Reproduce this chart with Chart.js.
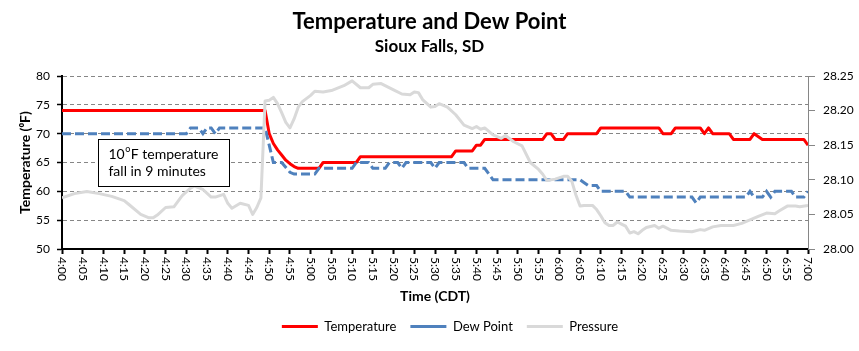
<!DOCTYPE html>
<html><head><meta charset="utf-8">
<script src="https://cdn.jsdelivr.net/npm/chart.js@4.4.1/dist/chart.umd.min.js"></script>
<style>html,body{margin:0;padding:0;background:#fff;}#wrap{width:859px;height:351px;}</style>
</head><body><div id="wrap"><canvas id="c" width="859" height="351"></canvas></div>
<script>
// ---- data (minutes after 4:00 CDT) ----
const tickLabels = ['4:00','4:05','4:10','4:15','4:20','4:25','4:30','4:35','4:40','4:45','4:50','4:55','5:00','5:05','5:10','5:15','5:20','5:25','5:30','5:35','5:40','5:45','5:50','5:55','6:00','6:05','6:10','6:15','6:20','6:25','6:30','6:35','6:40','6:45','6:50','6:55','7:00'];

const tempMin = [0,49,50,51,52,53,54,55,56,57,62,63,71,72,94,95,99,100,101,102,116,117,118,119,121,122,129,130,144,145,147,148,154,155,156,157,161,162,166,167,169,179,180];
const tempVal = [74,74,70,68.3,67.2,66.3,65.4,64.8,64.3,64,64,65,65,66,66,67,67,68,68,69,69,70,70,69,69,70,70,71,71,70,70,71,71,70,71,70,70,69,69,70,69,69,68];

const dewMin = [0,30,31,33,34,35,36,37,38,49,50,51,53,55,56,61,62,70,71,74,75,78,79,81,82,83,89,90,91,97,98,102,103,104,125,126,127,129,130,136,137,152,153,154,165,166,167,169,170,171,172,176,177,179,180];
const dewVal = [70,70,71,71,70,71,71,70,71,71,68,65,65,63.3,63,63,64,64,65,65,64,64,65,65,64,65,65,64,65,65,64,64,63,62,62,61.5,61,61,60,60,59,59,58,59,59,60,59,59,60,59,60,60,59,59,60];

const presMin = [0,3,6,9,12,15,16,19,21,22,23,25,27,29,31,32,34,36,37,39,40,41,43,45,46,47,48,49,50,51,52,53,54,55,56,57,58,60,61,63,65,68,70,72,74,75,77,80,82,84,85,86,87,89,90,91,93,95,97,99,100,101,102,104,106,107,109,111,113,115,116,117,119,121,122,123,124,125,126,128,129,130,131,132,133,134,135,136,137,138,139,140,141,143,144,145,147,149,152,154,155,157,159,162,164,166,168,170,172,173,175,177,178,180];
const presVal = [28.074,28.08,28.083,28.08,28.076,28.07,28.065,28.05,28.045,28.045,28.049,28.06,28.061,28.077,28.088,28.091,28.086,28.075,28.075,28.079,28.066,28.059,28.066,28.063,28.05,28.06,28.074,28.214,28.215,28.219,28.21,28.197,28.183,28.175,28.188,28.205,28.213,28.222,28.228,28.227,28.229,28.236,28.243,28.233,28.233,28.238,28.239,28.23,28.224,28.223,28.227,28.226,28.216,28.205,28.206,28.21,28.205,28.194,28.179,28.174,28.177,28.173,28.175,28.165,28.16,28.164,28.155,28.149,28.125,28.115,28.108,28.099,28.101,28.105,28.105,28.098,28.078,28.062,28.063,28.063,28.057,28.048,28.038,28.034,28.034,28.039,28.036,28.033,28.023,28.025,28.022,28.027,28.031,28.034,28.03,28.033,28.027,28.026,28.025,28.028,28.027,28.032,28.034,28.034,28.037,28.042,28.047,28.052,28.051,28.055,28.062,28.062,28.061,28.063];

const seriesNames = ['Temperature','Dew Point','Pressure'];

const toPts = (xs, ys) => xs.map((m, i) => ({x: m, y: ys[i]}));

Chart.defaults.font.family = 'Lato, "Open Sans", sans-serif';
Chart.defaults.color = '#000';

const xLabelPlugin = {
  id: 'xLabels',
  afterDraw(chart) {
    const xs = chart.scales.x, ctx = chart.ctx;
    ctx.save();
    ctx.font = '12px Lato';
    ctx.fillStyle = '#000';
    ctx.textAlign = 'left';
    ctx.textBaseline = 'middle';
    xs.ticks.forEach((t, i) => {
      const px = xs.getPixelForValue(t.value);
      ctx.save();
      ctx.translate(px, xs.top + 8);
      ctx.rotate(Math.PI / 2);
      ctx.fillText(tickLabels[i], 0, 0);
      ctx.restore();
    });
    ctx.restore();
  }
};

// nudge the centred legend to the right, as in the original layout
const legendShift = {
  id: 'legendShift',
  beforeDraw(chart) {
    const lg = chart.legend;
    if (!lg) return;
    lg.left = chart.chartArea.left + 15;
    lg.right = chart.chartArea.right + 15;
  }
};

const notePlugin = {
  id: 'note',
  afterDatasetsDraw(chart) {
    const xs = chart.scales.x, ys = chart.scales.y, ctx = chart.ctx;
    const x1 = Math.round(xs.getPixelForValue(8.7)) + 0.5;
    const x2 = Math.round(xs.getPixelForValue(40.3)) + 0.5;
    const y1 = Math.round(ys.getPixelForValue(69.1)) + 0.5;
    const y2 = Math.round(ys.getPixelForValue(60.9)) + 0.5;
    ctx.save();
    ctx.fillStyle = '#fff';
    ctx.fillRect(x1, y1, x2 - x1, y2 - y1);
    ctx.strokeStyle = '#000';
    ctx.lineWidth = 1;
    ctx.strokeRect(x1, y1, x2 - x1, y2 - y1);
    ctx.fillStyle = '#000';
    ctx.textAlign = 'left';
    ctx.textBaseline = 'middle';
    const tx = x1 + 10;
    const l1 = ys.getPixelForValue(66.4);
    const l2 = ys.getPixelForValue(63.5);
    ctx.font = '14px Lato';
    ctx.fillText('10', tx, l1);
    let w = ctx.measureText('10').width;
    ctx.font = '9px Lato';
    ctx.fillText('o', tx + w + 0.5, l1 - 5);
    const w2 = ctx.measureText('o').width;
    ctx.font = '14px Lato';
    ctx.fillText('F temperature', tx + w + w2 + 1, l1);
    ctx.fillText('fall in 9 minutes', tx, l2);
    ctx.restore();
  }
};

new Chart(document.getElementById('c'), {
  type: 'line',
  data: {
    datasets: [
      { label: seriesNames[0], data: toPts(tempMin, tempVal), yAxisID: 'y', borderColor: '#FF0000', backgroundColor: '#FF0000', borderWidth: 3, pointRadius: 0, tension: 0, borderJoinStyle: 'round', order: 3 },
      { label: seriesNames[1], data: toPts(dewMin, dewVal), yAxisID: 'y', borderColor: '#4F81BD', backgroundColor: '#4F81BD', borderWidth: 3, borderDash: [9, 4], pointRadius: 0, tension: 0, order: 2 },
      { label: seriesNames[2], data: toPts(presMin, presVal), yAxisID: 'y2', borderColor: '#D9D9D9', backgroundColor: '#D9D9D9', borderWidth: 3, pointRadius: 0, tension: 0, borderJoinStyle: 'round', order: 1 }
    ]
  },
  options: {
    responsive: false,
    animation: false,
    devicePixelRatio: 1,
    layout: { padding: { top: 0, left: 0, right: 0, bottom: 8 } },
    plugins: {
      title: { display: true, text: 'Temperature and Dew Point', font: { size: 22, weight: 'bold' }, color: '#000', padding: { top: 9, bottom: 0 } },
      subtitle: { display: true, text: 'Sioux Falls, SD', font: { size: 17, weight: 'bold' }, color: '#000', padding: { top: 1, bottom: 19.2 } },
      legend: {
        position: 'bottom', fullSize: false,
        labels: { usePointStyle: true, pointStyle: 'line', pointStyleWidth: 36, font: { size: 13 }, color: '#000', padding: 14,
          sort: (a, b) => a.datasetIndex - b.datasetIndex }
      },
      tooltip: { enabled: false }
    },
    scales: {
      x: {
        type: 'linear', min: 0, max: 180,
        ticks: { stepSize: 5, display: false },
        grid: { drawOnChartArea: false, drawTicks: true, tickLength: 5, tickColor: '#000', tickWidth: 2 },
        border: { color: '#000', width: 2 },
        title: { display: true, text: 'Time (CDT)', font: { size: 14, weight: 'bold' }, color: '#000', padding: { top: 0, bottom: 1 } },
        afterFit(s) { s.height = 57; }
      },
      y: {
        position: 'left', min: 50, max: 80,
        ticks: { stepSize: 5, padding: 7, font: { size: 12 }, color: '#000' },
        grid: {
          color: (c) => (c.tick && c.tick.value === 50) ? 'rgba(0,0,0,0)' : '#868686',
          lineWidth: 1, tickLength: 5, tickColor: '#000', tickWidth: 1.5
        },
        border: { color: '#000', width: 2, dash: [4, 3] },
        title: { display: true, text: 'Temperature (\u2070F)', font: { size: 14, weight: 'bold' }, color: '#000', padding: { top: 17, bottom: 0 } },
        afterFit(s) { s.width = 62; }
      },
      y2: {
        position: 'right', min: 28.0, max: 28.25,
        ticks: { stepSize: 0.05, padding: 8, font: { size: 12 }, color: '#000', callback: (v) => Number(v).toFixed(2) },
        grid: { drawOnChartArea: false, tickLength: 7, tickColor: '#868686', tickWidth: 1 },
        border: { color: '#868686', width: 1 },
        afterFit(s) { s.width = 51; }
      }
    }
  },
  plugins: [xLabelPlugin, notePlugin, legendShift]
});
</script>
</body></html>
